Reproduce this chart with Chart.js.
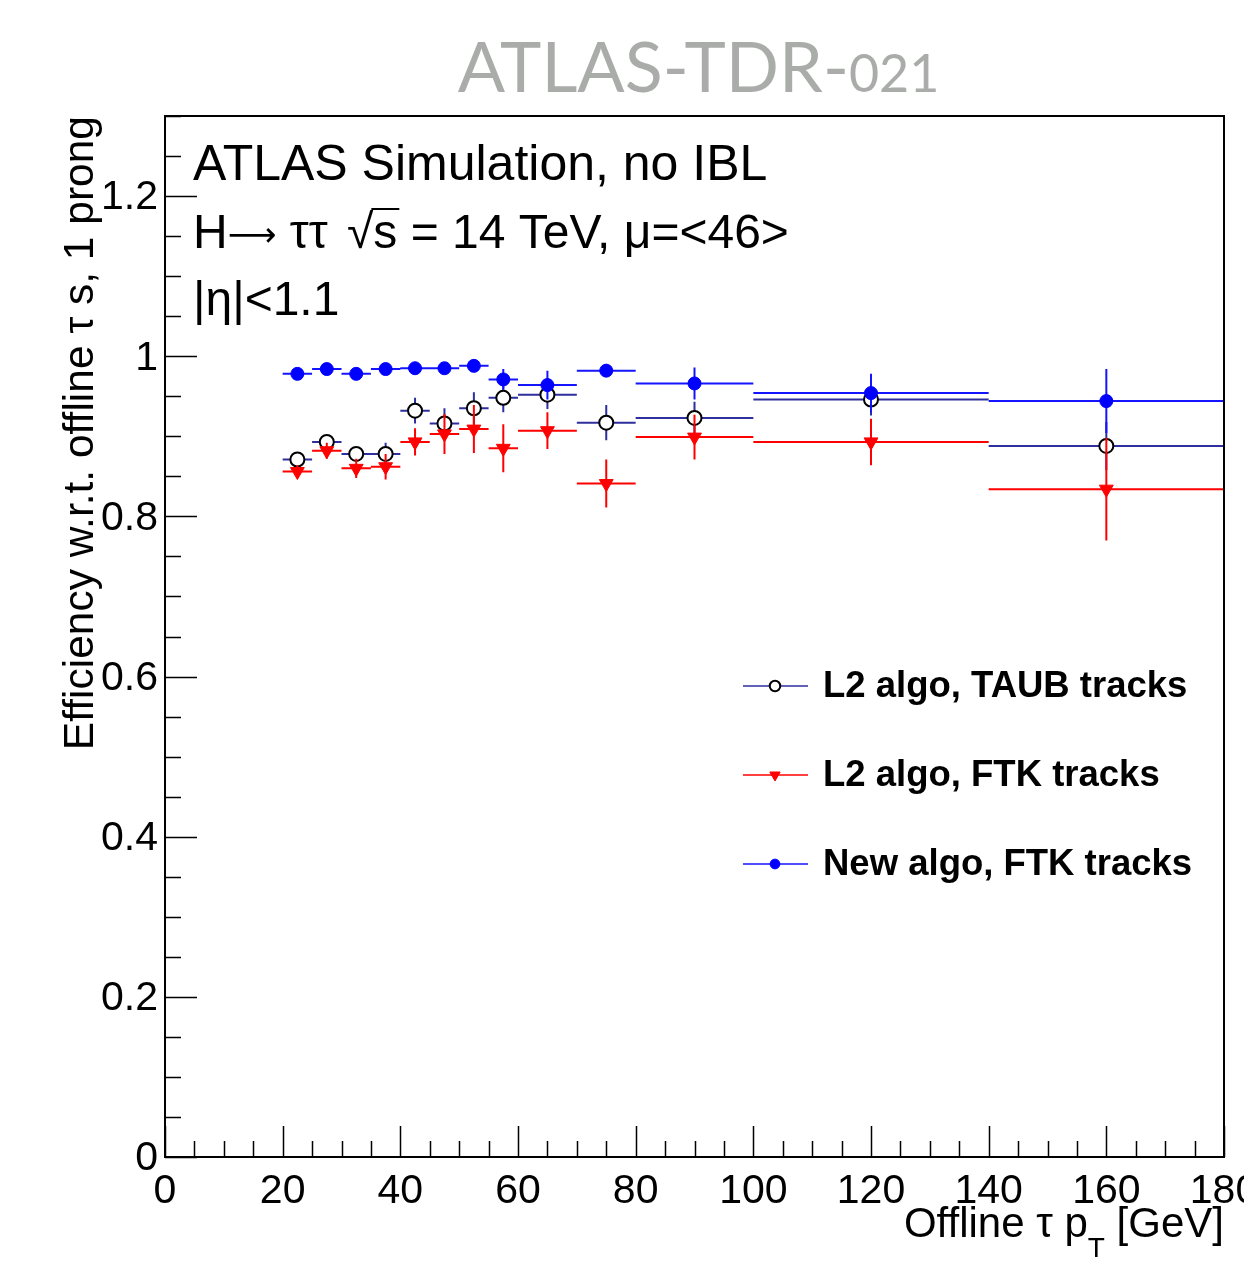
<!DOCTYPE html>
<html>
<head>
<meta charset="utf-8">
<script src="https://cdn.jsdelivr.net/npm/chart.js@4.4.1/dist/chart.umd.min.js"></script>
<style>
  html, body { margin: 0; padding: 0; background: #fff; }
  canvas { display: block; }
</style>
</head>
<body>
<canvas id="effChart" width="1244" height="1267"></canvas>
<script>
// --- data: offline tau pT bins [GeV] ---
const binLow    = [20, 25, 30, 35, 40, 45, 50, 55, 60, 70, 80, 100, 140];
const binHigh   = [25, 30, 35, 40, 45, 50, 55, 60, 70, 80, 100, 140, 180];
const binCenter = [22.5, 27.5, 32.5, 37.5, 42.5, 47.5, 52.5, 57.5, 65, 75, 90, 120, 160];

// L2 algo, TAUB tracks
const effTaub = [0.871, 0.893, 0.878, 0.878, 0.932, 0.916, 0.935, 0.948, 0.952, 0.917, 0.923, 0.946, 0.888];
const errTaub = [0.006, 0.006, 0.008, 0.014, 0.016, 0.019, 0.020, 0.018, 0.018, 0.022, 0.020, 0.020, 0.030];
// L2 algo, FTK tracks
const effFtk = [0.856, 0.882, 0.860, 0.862, 0.893, 0.903, 0.909, 0.885, 0.907, 0.841, 0.899, 0.893, 0.834];
const errFtk = [0.008, 0.010, 0.012, 0.016, 0.017, 0.025, 0.030, 0.030, 0.023, 0.030, 0.028, 0.029, 0.064];
// New algo, FTK tracks
const effNew = [0.978, 0.984, 0.978, 0.984, 0.985, 0.985, 0.988, 0.971, 0.964, 0.982, 0.966, 0.954, 0.944];
const errNew = [0.004, 0.004, 0.004, 0.004, 0.004, 0.005, 0.006, 0.013, 0.018, 0.008, 0.020, 0.024, 0.040];

const seriesNames = ['L2 algo, TAUB tracks', 'L2 algo, FTK tracks', 'New algo, FTK tracks'];
const xTickLabels = ['0', '20', '40', '60', '80', '100', '120', '140', '160', '180'];
const yTickLabels = ['0', '0.2', '0.4', '0.6', '0.8', '1', '1.2'];

const docTitle = 'ATLAS-TDR-';
const docNumber = '021';
const yTitle = 'Efficiency w.r.t. offline \u03c4 s, 1 prong';
const infoLines = ['ATLAS Simulation, no IBL', '|\u03b7|<1.1'];

const SANS = '"Liberation Sans", Arial, Helvetica, sans-serif';

// horizontal (bin width) + vertical (stat. error) bars as one broken line
function errorBars(eff, err) {
    const pts = [];
    eff.forEach((v, i) => {
        pts.push({ x: binLow[i], y: v }, { x: binHigh[i], y: v }, { x: binHigh[i], y: null });
        pts.push({ x: binCenter[i], y: v - err[i] }, { x: binCenter[i], y: v + err[i] }, { x: binCenter[i], y: null });
    });
    return pts;
}
const markers = (eff) => binCenter.map((x, i) => ({ x: x, y: eff[i] }));

const styles = [
    { line: '#2e2e9e', pointStyle: 'circle', rotation: 0, radius: 7, fill: '#ffffff', border: '#000000', bw: 2 },
    { line: '#ff0000', pointStyle: 'triangle', rotation: 180, radius: 8, fill: '#ff0000', border: '#ff0000', bw: 1 },
    { line: '#1414ff', pointStyle: 'circle', rotation: 0, radius: 6.5, fill: '#0000ff', border: '#0000ff', bw: 1 }
];
const effs = [effTaub, effFtk, effNew];
const errs = [errTaub, errFtk, errNew];

const datasets = [];
effs.forEach((eff, k) => {
    const s = styles[k];
    datasets.push({
        type: 'line', label: seriesNames[k] + ' err', data: errorBars(eff, errs[k]),
        borderColor: s.line, borderWidth: 2, pointRadius: 0, spanGaps: false,
        fill: false, tension: 0, order: 60 - k * 20
    });
    datasets.push({
        type: 'scatter', label: seriesNames[k], data: markers(eff),
        pointStyle: s.pointStyle, rotation: s.rotation, pointRadius: s.radius, pointHoverRadius: s.radius,
        backgroundColor: s.fill, borderColor: s.border, borderWidth: s.bw, order: 50 - k * 20
    });
});

// --- ROOT-like frame, inward ticks, labels, texts and legend ---
const rootStyle = {
    id: 'rootStyle',
    afterDatasetsDraw(chart) {
        const ctx = chart.ctx;
        const { left, right, top, bottom } = chart.chartArea;
        const xs = chart.scales.x, ys = chart.scales.y;
        ctx.save();
        ctx.strokeStyle = '#000';
        ctx.lineWidth = 2;
        ctx.strokeRect(left, top, right - left, bottom - top);

        ctx.lineWidth = 1.5;
        ctx.beginPath();
        for (let k = 0; k <= 36; k++) {
            const px = Math.round(xs.getPixelForValue(k * 5)) + 0.5;
            const len = k % 4 === 0 ? 31 : 16;
            ctx.moveTo(px, bottom);
            ctx.lineTo(px, bottom - len);
        }
        for (let k = 0; k <= 26; k++) {
            const py = Math.round(ys.getPixelForValue(k * 0.05)) + 0.5;
            const len = k % 4 === 0 ? 32 : 16;
            ctx.moveTo(left, py);
            ctx.lineTo(left + len, py);
        }
        ctx.stroke();

        ctx.fillStyle = '#000';
        ctx.font = '41px ' + SANS;
        ctx.textAlign = 'center';
        ctx.textBaseline = 'alphabetic';
        xTickLabels.forEach(l => ctx.fillText(l, xs.getPixelForValue(Number(l)), bottom + 46));
        ctx.textAlign = 'right';
        ctx.textBaseline = 'middle';
        yTickLabels.forEach(l => ctx.fillText(l, left - 7, ys.getPixelForValue(Number(l)) + 2));
        ctx.restore();
    },
    afterDraw(chart) {
        const ctx = chart.ctx;
        const { left, right, top, bottom } = chart.chartArea;
        ctx.save();
        ctx.textAlign = 'left';
        ctx.textBaseline = 'alphabetic';

        // document title
        ctx.fillStyle = '#aaacaa';
        ctx.font = '70px Lato, "Open Sans", sans-serif';
        const w1 = ctx.measureText(docTitle).width;
        ctx.font = '52px Lato, "Open Sans", sans-serif';
        const w2 = ctx.measureText(docNumber).width;
        let tx = (left + right) / 2 - (w1 + w2) / 2 + 4;
        ctx.font = '70px Lato, "Open Sans", sans-serif';
        ctx.fillText(docTitle, tx, 92);
        ctx.font = '52px Lato, "Open Sans", sans-serif';
        ctx.fillText(docNumber, tx + w1, 92);

        // y axis title
        ctx.fillStyle = '#000';
        ctx.font = '42.5px ' + SANS;
        ctx.save();
        ctx.translate(93, top);
        ctx.rotate(-Math.PI / 2);
        ctx.textAlign = 'right';
        ctx.fillText(yTitle, 0, 0);
        ctx.restore();

        // x axis title with subscript
        const xt1 = 'Offline \u03c4 p', xsub = 'T', xt2 = ' [GeV]';
        ctx.font = '42px ' + SANS;
        const a = ctx.measureText(xt1).width, c = ctx.measureText(xt2).width;
        ctx.font = '28px ' + SANS;
        const b = ctx.measureText(xsub).width;
        let x0 = right - (a + b + c);
        ctx.font = '42px ' + SANS;
        ctx.fillText(xt1, x0, 1237);
        ctx.fillText(xt2, x0 + a + b, 1237);
        ctx.font = '28px ' + SANS;
        ctx.fillText(xsub, x0 + a, 1257);

        // info text
        ctx.font = '50px ' + SANS;
        ctx.fillText(infoLines[0], 193, 180);
        ctx.font = '48px ' + SANS;
        let px = 193;
        ctx.fillText('H', px, 248); px += ctx.measureText('H').width;
        ctx.font = '34px "DejaVu Sans", ' + SANS;
        ctx.fillText('\u27f6', px, 246); px += ctx.measureText('\u27f6').width;
        ctx.font = '48px ' + SANS;
        const p1 = ' \u03c4\u03c4 ';
        ctx.fillText(p1, px, 248); px += ctx.measureText(p1).width + 6;
        ctx.fillText('\u221a', px, 248); px += ctx.measureText('\u221a').width;
        ctx.fillText('s', px, 248);
        const sw = ctx.measureText('s').width;
        ctx.lineWidth = 2;
        ctx.strokeStyle = '#000';
        ctx.beginPath();
        ctx.moveTo(px - 2, 209); ctx.lineTo(px + sw + 2, 209);
        ctx.stroke();
        px += sw;
        ctx.fillText(' = 14 TeV, \u03bc=<46>', px, 248);
        ctx.fillText(infoLines[1], 193, 315);

        // legend
        const legY = [686, 775, 864];
        ctx.font = 'bold 36.5px ' + SANS;
        ctx.textBaseline = 'middle';
        const drawPoint = Chart.helpers && Chart.helpers.drawPoint;
        seriesNames.forEach((name, k) => {
            const s = styles[k];
            ctx.strokeStyle = s.line;
            ctx.lineWidth = 1.5;
            ctx.beginPath();
            ctx.moveTo(743, legY[k]); ctx.lineTo(808, legY[k]);
            ctx.stroke();
            ctx.fillStyle = s.fill;
            ctx.strokeStyle = s.border;
            ctx.lineWidth = s.bw;
            const opts = { pointStyle: s.pointStyle, rotation: s.rotation, radius: s.radius * 0.75, borderWidth: s.bw };
            if (drawPoint) drawPoint(ctx, opts, 775, legY[k]);
            ctx.fillStyle = '#000';
            ctx.fillText(name, 823, legY[k] + 1);
        });
        ctx.restore();
    }
};

new Chart(document.getElementById('effChart'), {
    type: 'scatter',
    data: { datasets },
    options: {
        responsive: false,
        devicePixelRatio: 1,
        animation: false,
        layout: { padding: { left: 165, right: 20, top: 116, bottom: 110 } },
        plugins: { legend: { display: false }, tooltip: { enabled: false } },
        scales: {
            x: { type: 'linear', min: 0, max: 180, display: false },
            y: { type: 'linear', min: 0, max: 1.3, display: false }
        }
    },
    plugins: [rootStyle]
});
</script>
</body>
</html>
